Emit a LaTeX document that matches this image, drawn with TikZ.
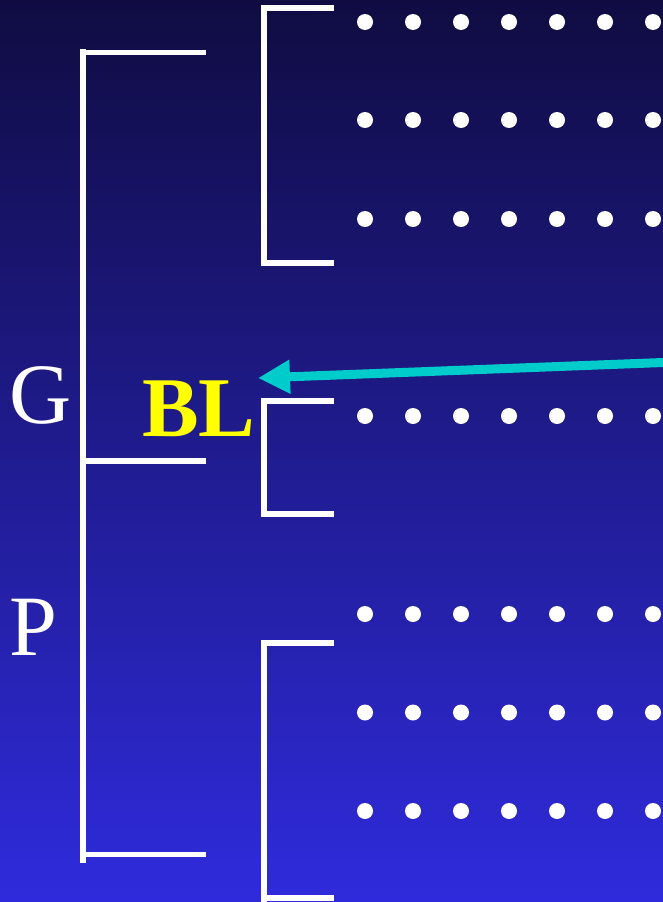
\documentclass[tikz,border=0pt]{standalone}
\usepackage{fontspec}
\setmainfont{Liberation Serif}
\usetikzlibrary{arrows.meta}
\definecolor{bgtop}{RGB}{16,12,66}
\definecolor{bgbot}{RGB}{47,43,220}
\definecolor{arrowcyan}{RGB}{0,204,204}
\definecolor{lblyellow}{RGB}{255,255,0}
\tikzset{
  brk/.style={draw=white, line width=5.5pt},
  dotmark/.style={fill=white},
  biglbl/.style={inner sep=0pt, anchor=base west, text=white, font=\fontsize{86}{86}\selectfont},
  bllbl/.style={inner sep=0pt, anchor=base west, text=lblyellow, font=\bfseries\fontsize{85}{85}\selectfont},
  pointer/.style={draw=arrowcyan, line width=9pt, -{Triangle[length=32pt,width=32pt]}}
}
\begin{document}
\begin{tikzpicture}[x=1pt,y=-1pt]
\useasboundingbox (0,0) rectangle (663,902);
\shade[top color=bgtop, bottom color=bgbot] (0,0) rectangle (663,902);
% big bracket
\draw[brk] (83,49) -- (83,863);
\draw[brk] (83,52.5) -- (206,52.5);
\draw[brk] (83,461) -- (206,461);
\draw[brk] (83,854.5) -- (206,854.5);
% small brackets
\draw[brk] (264,5) -- (264,266);
\draw[brk] (264,8) -- (334,8);
\draw[brk] (264,263) -- (334,263);
\draw[brk] (264,398) -- (264,517);
\draw[brk] (264,401) -- (334,401);
\draw[brk] (264,514) -- (334,514);
\draw[brk] (264,640) -- (264,902);
\draw[brk] (264,643) -- (334,643);
\draw[brk] (264,898) -- (334,898);
% dots
\foreach \yy in {22,120,219,416,614,712.5,811}{
  \foreach \k in {0,...,6}{
    \fill[dotmark] (365+48*\k,\yy) circle (8);
  }
}
% labels
\node[biglbl] (G) at (9,423) {G};
\node[biglbl] (P) at (9,655) {P};
\node[bllbl] (BL) at (142,436) {BL};
% arrow
\coordinate (src) at (663,362.5);
\coordinate (tip) at (258,378);
\draw[pointer] (src) -- (tip);
\end{tikzpicture}
\end{document}
